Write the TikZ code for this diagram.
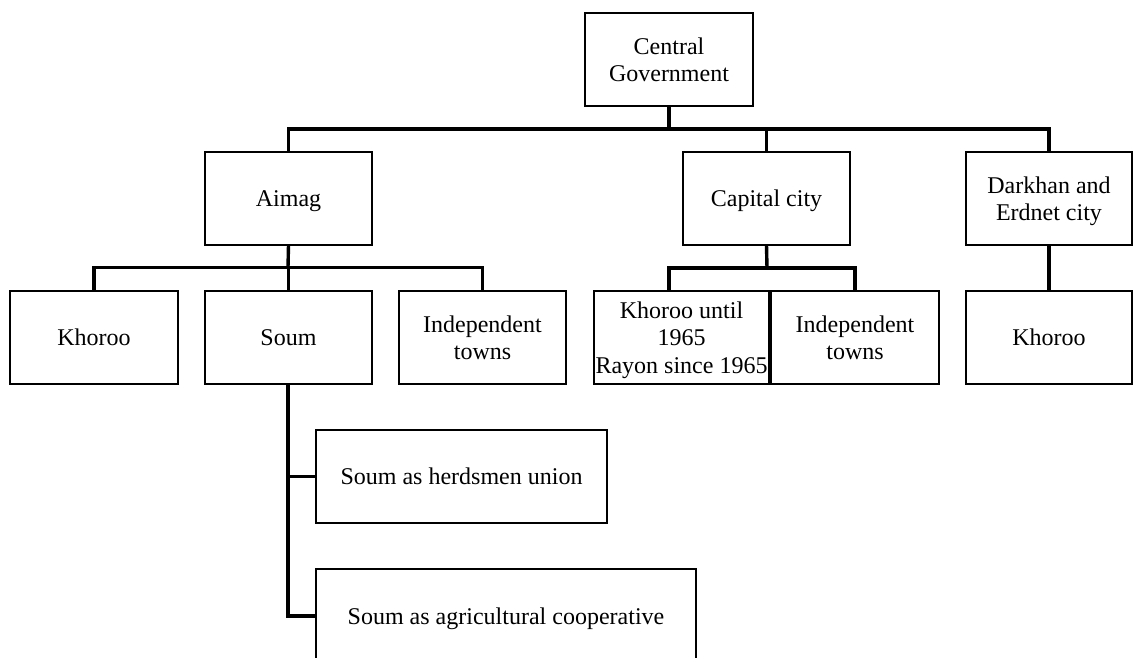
\documentclass[tikz,border=0pt]{standalone}
\usepackage{fontspec}
\setmainfont{Liberation Serif}
\begin{document}
\begin{tikzpicture}[x=1pt,y=-1pt,
  unit/.style={draw, line width=1.3pt, inner sep=0pt, outer sep=0pt,
    align=center, font=\fontsize{24}{27.5}\selectfont, text depth=0pt,
    minimum height=93pt},
  conn/.style={line width=3.4pt, line join=miter}]
\useasboundingbox (0,0) rectangle (1133,657);
\clip (0,0) rectangle (1133,657);

% top level
\node[unit, minimum width=168pt] (cg) at (669,59.5) {Central\\Government};

% second level
\node[unit, minimum width=167pt] (aimag) at (288.5,198.5) {Aimag};
\node[unit, minimum width=167pt] (cap)   at (766.5,198.5) {Capital city};
\node[unit, minimum width=166pt] (dark)  at (1049,198.5) {Darkhan and\\Erdnet city};

% third level
\node[unit, minimum width=168pt] (kh1)  at (94,337.5)    {Khoroo};
\node[unit, minimum width=167pt] (soum) at (288.5,337.5) {Soum};
\node[unit, minimum width=167pt] (ind1) at (482.5,337.5) {Independent\\towns};
\node[unit, minimum width=175pt] (kh2)  at (681.5,337.5) {Khoroo until\\1965\\Rayon since 1965};
\node[unit, minimum width=168pt] (ind2) at (855,337.5)   {Independent\\towns};
\node[unit, minimum width=166pt] (kh3)  at (1049,337.5)  {Khoroo};

% soum forms
\node[unit, minimum width=291pt] (herd) at (461.5,476.5) {Soum as herdsmen union};
\node[unit, minimum width=380pt, minimum height=94pt] (agri) at (506,616) {Soum as agricultural cooperative};

% bus lines
\coordinate (bus1) at (669,129);
\coordinate (bus2) at (288,267.5);
\coordinate (bus3) at (767,268);
\coordinate (bus4) at (669,268);
\coordinate (bus5) at (855,268);
\coordinate (trunk) at (288,616);

% central government to second level
\draw[conn] (cg.south) -- (bus1);
\draw[conn] (aimag.north) |- (bus1) -| (dark.north);
\draw[conn] (cap.north) -- (cap.north |- bus1);

% aimag to its units
\draw[conn] (aimag.south) -- (bus2);
\draw[conn] (kh1.north) |- (bus2) -| (ind1.north);
\draw[conn] (soum.north) -- (soum.north |- bus2);

% capital city to its units
\draw[conn] (cap.south) -- (bus3);
\draw[conn] (kh2.north -| bus4) |- (bus3) -| (ind2.north);

% darkhan to khoroo
\draw[conn] (dark.south) -- (kh3.north);

% soum to its forms
\draw[conn] (soum.south -| trunk) -- (trunk) -- (agri.west);
\draw[conn] (herd.west -| trunk) -- (herd.west);
\end{tikzpicture}
\end{document}
